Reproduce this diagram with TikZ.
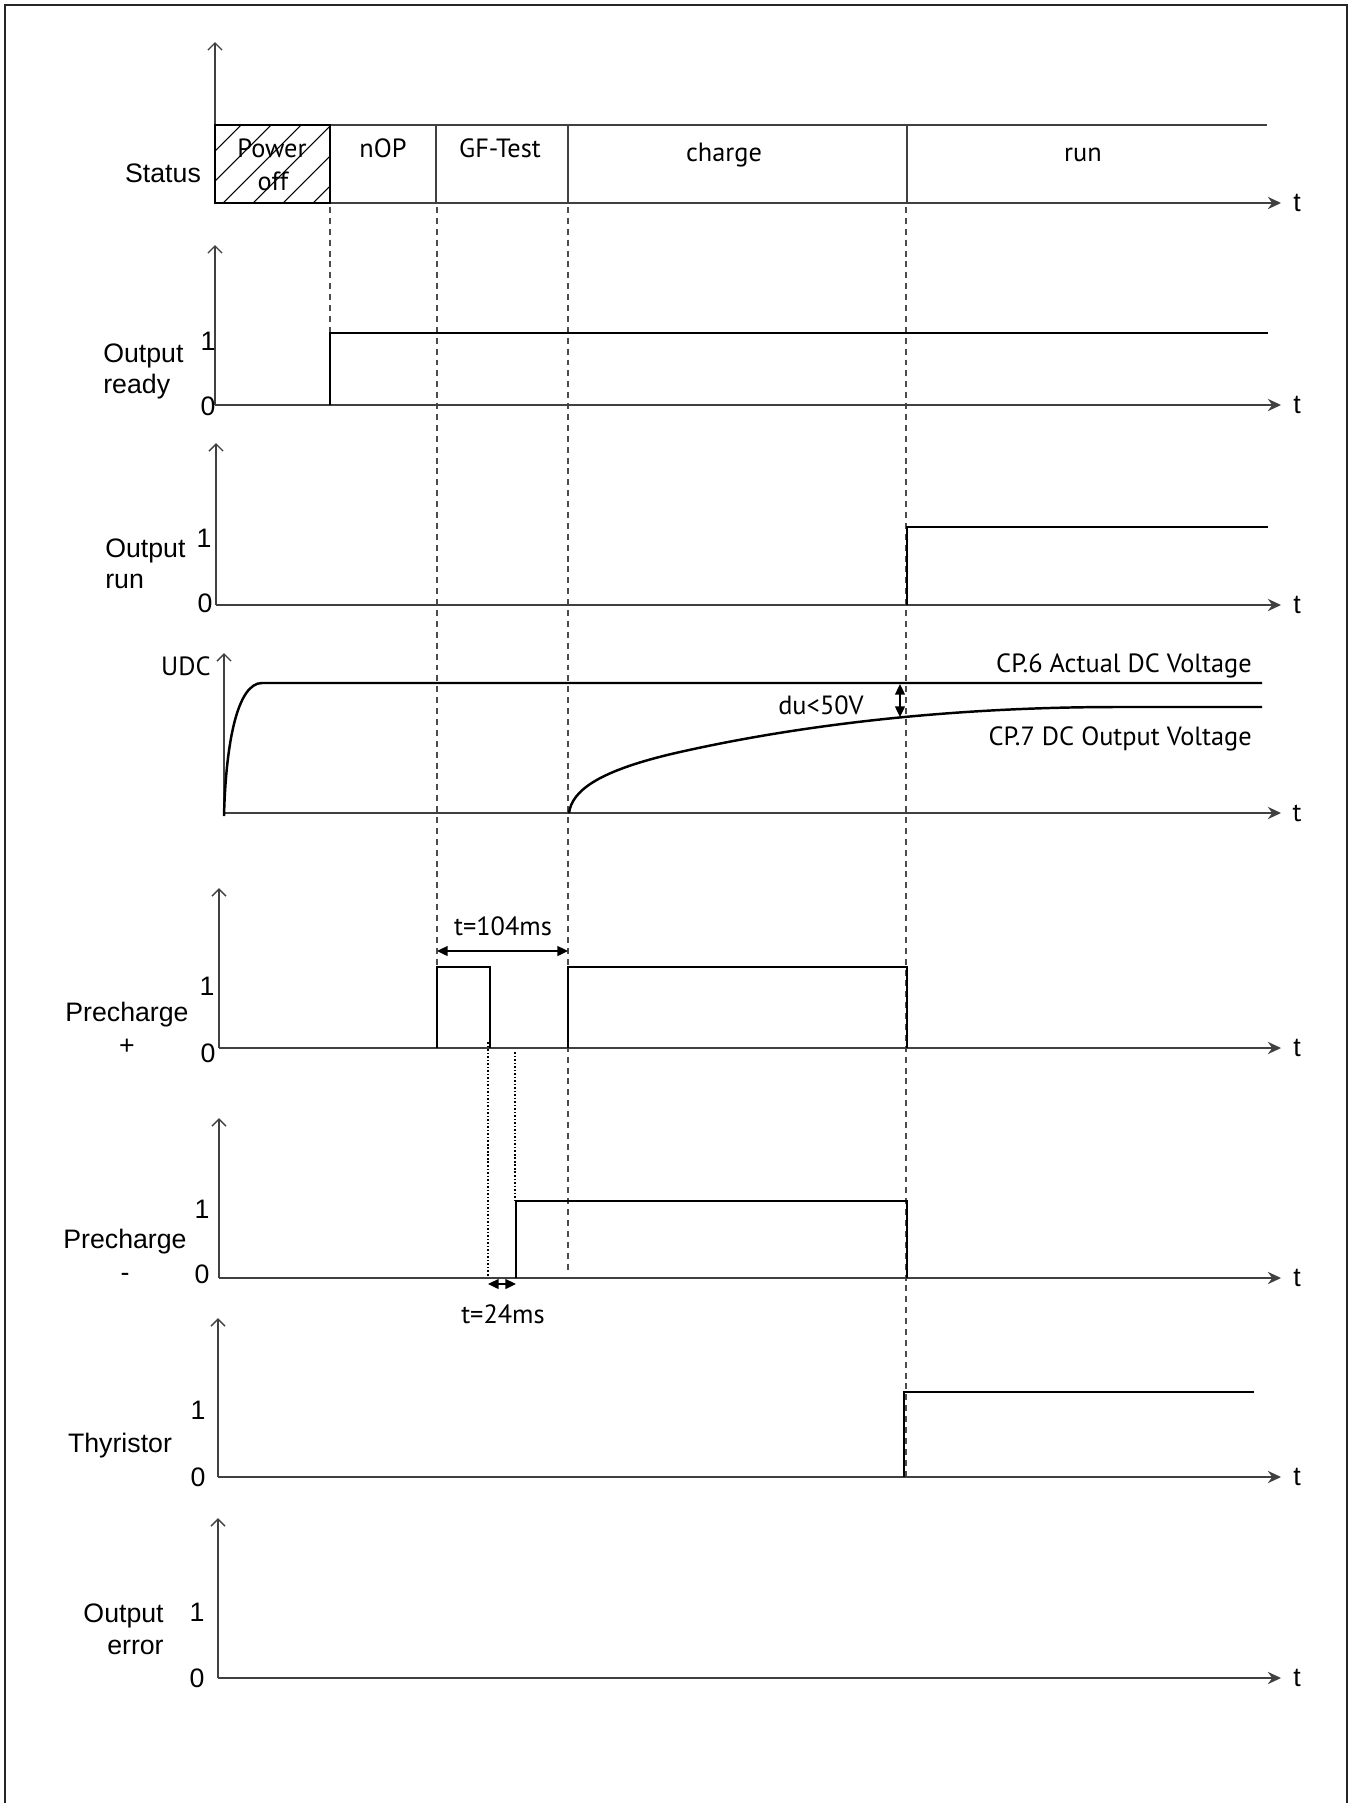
\documentclass[tikz,border=0pt]{standalone}
\usepackage{fontspec}
\setmainfont{Liberation Sans}
\newfontfamily\myr{PT Sans}
\usetikzlibrary{arrows.meta}
\begin{document}
\begin{tikzpicture}[x=0.02cm,y=-0.02cm,
  axis/.style={line width=0.8pt, draw=black!75},
  taxis/.style={axis, -{Stealth[length=7.5pt,width=7pt,inset=2.5pt]}},
  vaxis/.style={axis, -{Straight Barb[length=4pt,width=8pt]}},
  sig/.style={line width=1.6pt, draw=black},
  curve/.style={line width=1.4pt, draw=black},
  guide/.style={draw=black!70, line width=0.7pt, dash pattern=on 3.4pt off 2.8pt},
  dotln/.style={draw=black, line width=1.4pt, dash pattern=on 0.9pt off 1.1pt},
  dimarr/.style={line width=0.8pt, draw=black, {Triangle[length=6pt,width=5.6pt]}-{Triangle[length=6pt,width=5.6pt]}},
  lab/.style={font=\fontsize{15.2}{18}\selectfont, inner sep=0, anchor=base},
  mlab/.style={font=\myr\fontsize{15}{18}\selectfont, inner sep=0, anchor=base}
]
\useasboundingbox (0,0) rectangle (1352,1803);
% frame
\coordinate (fbl) at (5,1830);
\coordinate (ftl) at (5,5);
\coordinate (ftr) at (1347,5);
\coordinate (fbr) at (1347,1830);
\draw[line width=1.5pt, black!85] (fbl) -- (ftl) -- (ftr) -- (fbr);

% ---------------- Status ----------------
\begin{scope}
  \clip (215,125) rectangle (330,203);
  \foreach \x in {133,163,...,343} \draw[line width=0.6pt] (\x,203) -- ++(78,-78);
\end{scope}
\draw[vaxis] (215,203) -- (215,42);
\draw[axis] (215,125) -- (1267,125);
\draw[taxis] (215,203) -- (1281,203);
\draw[line width=1.3pt] (215,125) rectangle (330,203);
\foreach \x in {436,568,907} \draw[axis] (\x,125) -- (\x,203);
\node[lab] (stl) at (163,182) {Status};
\node[mlab] (pw1) at (272,157) {Power};
\node[mlab] (pw2) at (273,190) {off};
\node[mlab] (nop) at (383,157) {nOP};
\node[mlab] (gft) at (500,157) {GF-Test};
\node[mlab] (chg) at (724,161) {charge};
\node[mlab] (run) at (1083,161) {run};
\node[lab] (t1) at (1297,211) {t};

% guides
\draw[guide] (330,207) -- (330,405);
\draw[guide] (437,207) -- (437,1048);
\draw[guide] (568,207) -- (568,1273);
\draw[guide] (906,207) -- (906,1477);

% ---------------- Output ready ----------------
\draw[vaxis] (215,405) -- (215,245);
\draw[taxis] (215,405) -- (1281,405);
\draw[sig] (330,405) -- (330,333) -- (1268,333);
\node[lab, anchor=base west] (or1) at (103,362) {Output};
\node[lab, anchor=base west] (or2) at (103,393) {ready};
\node[lab] (or3) at (208,350) {1};
\node[lab] (or4) at (208,415) {0};
\node[lab] (t2) at (1297,413) {t};

% ---------------- Output run ----------------
\draw[vaxis] (216,605) -- (216,443);
\draw[taxis] (216,605) -- (1281,605);
\draw[sig] (907,605) -- (907,527) -- (1268,527);
\node[lab, anchor=base west] (ou1) at (105,557) {Output};
\node[lab, anchor=base west] (ou2) at (105,588) {run};
\node[lab] (ou3) at (204,547) {1};
\node[lab] (ou4) at (205,612) {0};
\node[lab] (t3) at (1297,613) {t};

% ---------------- UDC ----------------
\draw[vaxis] (224,816) -- (224,653);
\draw[taxis] (224,813) -- (1281,813);
\draw[curve] (224,816) .. controls (226,740) and (238,683) .. (262,683) -- (1262,683);
\draw[curve] (569,813) .. controls (572,790) and (600,770) .. (680,752)
   .. controls (800,725) and (950,707) .. (1118,707) -- (1262,707);
\draw[dimarr] (900,684) -- (900,717);
\node[mlab, anchor=base east] (udc) at (211,675) {UDC};
\node[mlab, anchor=base east] (cp6) at (1252,672) {CP.6 Actual DC Voltage};
\node[mlab, anchor=base east] (cp7) at (1252,745) {CP.7 DC Output Voltage};
\node[mlab] (du) at (821,714) {du<50V};
\node[mlab] (t4) at (1297,821) {t};

% ---------------- Precharge + ----------------
\draw[vaxis] (219,1048) -- (219,888);
\draw[taxis] (219,1048) -- (1281,1048);
\draw[sig] (437,1048) -- (437,967) -- (490,967) -- (490,1048);
\draw[sig] (568,1048) -- (568,967) -- (907,967) -- (907,1048);
\draw[dimarr] (437,951) -- (568,951);
\node[mlab] (t104) at (503,935) {t=104ms};
\node[lab] (pp1) at (127,1021) {Precharge};
\node[lab] (pp2) at (127,1054) {+};
\node[lab] (pp3) at (207,995) {1};
\node[lab] (pp4) at (208,1062) {0};
\node[lab] (t5) at (1297,1056) {t};

\draw[dotln] (488,1042) -- (488,1279);
\draw[dotln] (515,1052) -- (515,1201);

% ---------------- Precharge - ----------------
\draw[vaxis] (219,1278) -- (219,1118);
\draw[taxis] (219,1278) -- (1281,1278);
\draw[sig] (516,1278) -- (516,1201) -- (907,1201) -- (907,1278);
\draw[dimarr] (488,1284) -- (516,1284);
\node[mlab] (t24) at (503,1323) {t=24ms};
\node[lab] (pm1) at (125,1248) {Precharge};
\node[lab] (pm2) at (125,1281) {-};
\node[lab] (pm3) at (202,1218) {1};
\node[lab] (pm4) at (202,1283) {0};
\node[lab] (t6) at (1297,1286) {t};

% ---------------- Thyristor ----------------
\draw[vaxis] (218,1477) -- (218,1318);
\draw[taxis] (218,1477) -- (1281,1477);
\draw[sig] (904,1477) -- (904,1392) -- (1254,1392);
\node[lab] (th1) at (120,1452) {Thyristor};
\node[lab] (th3) at (198,1419) {1};
\node[lab] (th4) at (198,1486) {0};
\node[lab] (t7) at (1297,1485) {t};

% ---------------- Output error ----------------
\draw[vaxis] (218,1678) -- (218,1518);
\draw[taxis] (218,1678) -- (1281,1678);
\node[lab, anchor=base east] (oe1) at (164,1622) {Output};
\node[lab, anchor=base east] (oe2) at (164,1654) {error};
\node[lab] (oe3) at (197,1621) {1};
\node[lab] (oe4) at (197,1687) {0};
\node[lab] (t8) at (1297,1686) {t};
\end{tikzpicture}
\end{document}
